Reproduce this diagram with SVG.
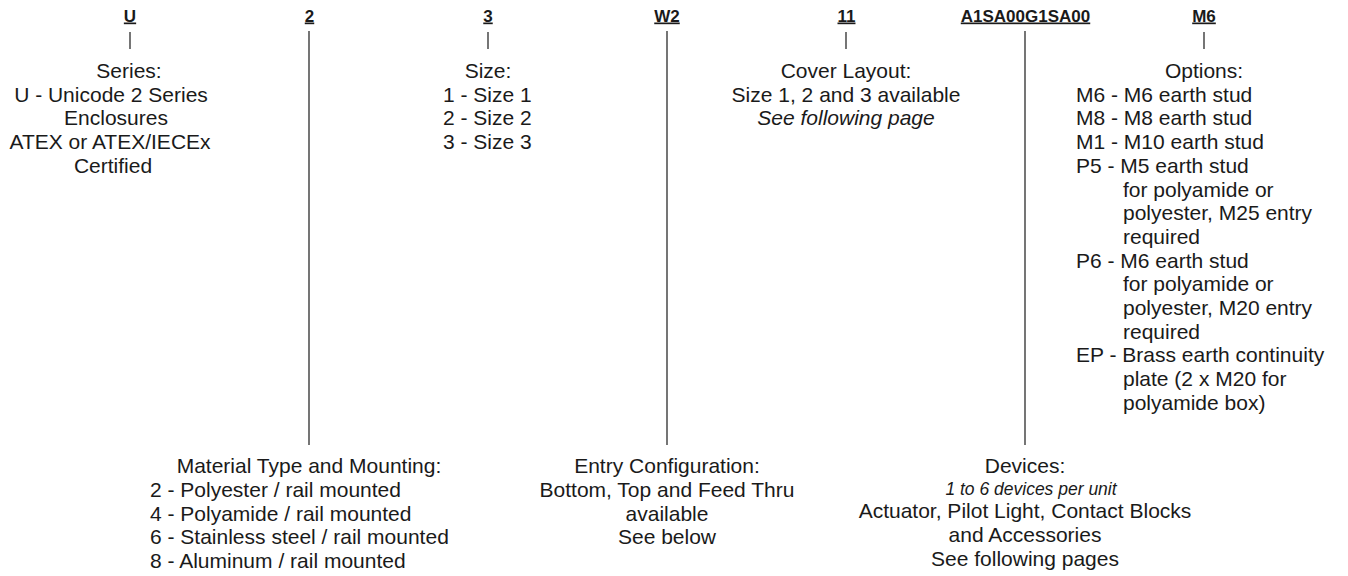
<svg xmlns="http://www.w3.org/2000/svg" width="1348" height="576" viewBox="0 0 1348 576">
<style>
  text { font-family: "Liberation Sans", Arial, Helvetica, sans-serif; fill: #1a1a1a; }
  .code { font-size: 17px; font-weight: bold; text-anchor: middle; text-decoration: underline; }
  .t { font-size: 21px; }
  .c { text-anchor: middle; }
  .i { font-style: italic; }
  .s { font-size: 17.5px; }
  .ln { stroke: #1a1a1a; stroke-width: 1.2; fill: none; }
</style>
<rect width="1348" height="576" fill="#ffffff"/>

<g id="connectors">
  <line class="ln" x1="130" y1="32" x2="130" y2="49"/>
  <line class="ln" x1="309" y1="31" x2="309" y2="445"/>
  <line class="ln" x1="488" y1="32" x2="488" y2="49"/>
  <line class="ln" x1="667" y1="31" x2="667" y2="445"/>
  <line class="ln" x1="846" y1="32" x2="846" y2="49"/>
  <line class="ln" x1="1025" y1="31" x2="1025" y2="445"/>
  <line class="ln" x1="1204" y1="32" x2="1204" y2="49"/>
</g>

<g id="codes">
  <text class="code" x="130" y="21.5">U</text>
  <text class="code" x="309.5" y="21.5">2</text>
  <text class="code" x="488" y="21.5">3</text>
  <text class="code" x="667" y="21.5">W2</text>
  <text class="code" x="846.5" y="21.5">11</text>
  <text class="code" x="1025.5" y="21.5">A1SA00G1SA00</text>
  <text class="code" x="1204" y="21.5">M6</text>
</g>

<g id="series">
  <text class="t c" x="129" y="78">Series:</text>
  <text class="t c" x="111" y="101.7">U - Unicode 2 Series</text>
  <text class="t c" x="116" y="125.4">Enclosures</text>
  <text class="t c" x="110" y="149.1">ATEX or ATEX/IECEx</text>
  <text class="t c" x="113" y="172.8">Certified</text>
</g>

<g id="size">
  <text class="t c" x="488" y="78">Size:</text>
  <text class="t" x="443" y="101.7">1 - Size 1</text>
  <text class="t" x="443" y="125.4">2 - Size 2</text>
  <text class="t" x="443" y="149.1">3 - Size 3</text>
</g>

<g id="cover-layout">
  <text class="t c" x="846" y="78">Cover Layout:</text>
  <text class="t c" x="846" y="101.7">Size 1, 2 and 3 available</text>
  <text class="t c i" x="846" y="125.4">See following page</text>
</g>

<g id="options">
  <text class="t c" x="1204" y="78">Options:</text>
  <text class="t" x="1076" y="101.7">M6 - M6 earth stud</text>
  <text class="t" x="1076" y="125.4">M8 - M8 earth stud</text>
  <text class="t" x="1076" y="149.1">M1 - M10 earth stud</text>
  <text class="t" x="1076" y="172.8">P5 - M5 earth stud</text>
  <text class="t" x="1123" y="196.5">for polyamide or</text>
  <text class="t" x="1123" y="220.2">polyester, M25 entry</text>
  <text class="t" x="1123" y="243.9">required</text>
  <text class="t" x="1076" y="267.6">P6 - M6 earth stud</text>
  <text class="t" x="1123" y="291.3">for polyamide or</text>
  <text class="t" x="1123" y="315">polyester, M20 entry</text>
  <text class="t" x="1123" y="338.7">required</text>
  <text class="t" x="1076" y="362.4">EP - Brass earth continuity</text>
  <text class="t" x="1123" y="386.1">plate (2 x M20 for</text>
  <text class="t" x="1123" y="409.8">polyamide box)</text>
</g>

<g id="material">
  <text class="t c" x="309" y="473">Material Type and Mounting:</text>
  <text class="t" x="150" y="496.8">2 - Polyester / rail mounted</text>
  <text class="t" x="150" y="520.6">4 - Polyamide / rail mounted</text>
  <text class="t" x="150" y="544.4">6 - Stainless steel / rail mounted</text>
  <text class="t" x="150" y="568.2">8 - Aluminum / rail mounted</text>
</g>

<g id="entry-configuration">
  <text class="t c" x="667" y="473">Entry Configuration:</text>
  <text class="t c" x="667" y="496.8">Bottom, Top and Feed Thru</text>
  <text class="t c" x="667" y="520.6">available</text>
  <text class="t c" x="667" y="544.4">See below</text>
</g>

<g id="devices">
  <text class="t c" x="1025" y="473">Devices:</text>
  <text class="s c i" x="1031" y="494.5">1 to 6 devices per unit</text>
  <text class="t c" x="1025" y="518">Actuator, Pilot Light, Contact Blocks</text>
  <text class="t c" x="1025" y="541.8">and Accessories</text>
  <text class="t c" x="1025" y="565.6">See following pages</text>
</g>
</svg>
